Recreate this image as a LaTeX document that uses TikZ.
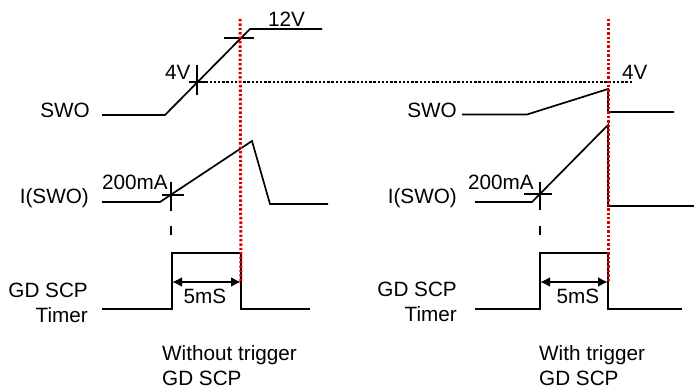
\documentclass[tikz,border=0pt]{standalone}
\usepackage{fontspec}
\setmainfont{Liberation Sans}
\usetikzlibrary{
    arrows.meta,         % For arrow tips
    positioning          % For label positioning
}

\begin{document}
\begin{tikzpicture}[
    x=1pt, y=-1pt, % one unit = one pixel, y pointing down
    >=Latex, % Set default arrow tip style
    wave/.style={line width=1.7pt},          % Style for waveforms
    tickmark/.style={line width=2.7pt},      % Style for crosses at levels
    marker/.style={red!85!black, line width=3pt, dash pattern=on 2.4pt off 2pt},
    level/.style={line width=2.6pt, dash pattern=on 2.4pt off 1.8pt},
    dim/.style={<->, line width=2pt, >={Latex[length=10pt,width=10pt]}},
    txt/.style={font=\fontsize{20.7}{25}\selectfont, inner sep=0pt}
    ]

    \useasboundingbox (0,0) rectangle (694,390);

    % ---------------- Left: without trigger ----------------
    % Signal names
    \node[txt, anchor=base east] (swoL) at (90,118) {SWO};
    \node[txt, anchor=base east] (iswoL) at (89,204) {I(SWO)};
    \node[txt, anchor=base east] (gdL) at (88,298) {GD SCP};
    \node[txt, anchor=base east] (timerL) at (88,323) {Timer};

    % SWO voltage ramp up to 12V
    \draw[wave] (102,115) -- (165,115) -- (250,29) -- (322,29);
    \draw[tickmark] (224,38) -- (254,38);
    \node[txt, anchor=base west] (vtopL) at (268,27) {12V};

    % 4V crossing and level line
    \coordinate (fourL) at (197,82);
    \draw[tickmark] (197,65) -- (197,95);
    \draw[tickmark] (189,82) -- (206,82);
    \node[txt, anchor=base west] (vfourL) at (165,80) {4V};

    % I(SWO) current
    \draw[wave] (102,202) -- (160,202) -- (252,141) -- (270,204) -- (328,204);
    \draw[tickmark] (171,182) -- (171,211);
    \draw[tickmark] (162,195) -- (184,195);
    \draw[tickmark] (171,226) -- (171,235);
    \node[txt, anchor=base west] (curL) at (102,190) {200mA};

    % GD SCP timer pulse
    \draw[wave] (102,309) -- (172,309) -- (172,253) -- (241,253) -- (241,309) -- (310,309);
    \coordinate (startL) at (172,282);
    \coordinate (endL) at (241,282);
    \draw[dim] (startL) -- (endL);
    \node[txt, anchor=base] (msL) at (205,304) {5mS};

    % Caption
    \node[txt, anchor=base west] (capL) at (162,360) {Without trigger};
    \node[txt, anchor=base west] (capLb) at (162,385) {GD SCP};

    % ---------------- Right: with trigger ----------------
    % Signal names
    \node[txt, anchor=base east] (swoR) at (457,118) {SWO};
    \node[txt, anchor=base east] (iswoR) at (457,204) {I(SWO)};
    \node[txt, anchor=base east] (gdR) at (457,297) {GD SCP};
    \node[txt, anchor=base east] (timerR) at (457,322) {Timer};

    % SWO voltage, cut off at 4V
    \draw[wave] (462,114.5) -- (527,114.5) -- (608,89) -- (608,112) -- (674,112);
    \coordinate (fourR) at (633,82);
    \node[txt, anchor=base west] (vfourR) at (622,80) {4V};

    % I(SWO) current
    \draw[wave] (475,202) -- (532,202) -- (608,125) -- (608,206) -- (694,206);
    \draw[tickmark] (540,182) -- (540,210);
    \draw[tickmark] (524,194) -- (552,194);
    \draw[tickmark] (540,226) -- (540,235);
    \node[txt, anchor=base west] (curR) at (468,190) {200mA};

    % GD SCP timer pulse
    \draw[wave] (475,309) -- (540,309) -- (540,253) -- (608,253) -- (608,309) -- (682,309);
    \coordinate (startR) at (540,282);
    \coordinate (endR) at (608,282);
    \draw[dim] (startR) -- (endR);
    \node[txt, anchor=base] (msR) at (578,304) {5mS};

    % Caption
    \node[txt, anchor=base west] (capR) at (539,360) {With trigger};
    \node[txt, anchor=base west] (capRb) at (539,385) {GD SCP};

    % ---------------- Common markers ----------------
    \draw[level] (fourL) -- (fourR); % 4V level
    \draw[marker] (240,19) -- (endL);
    \draw[marker] (608,19) -- (endR);

\end{tikzpicture}
\end{document}
